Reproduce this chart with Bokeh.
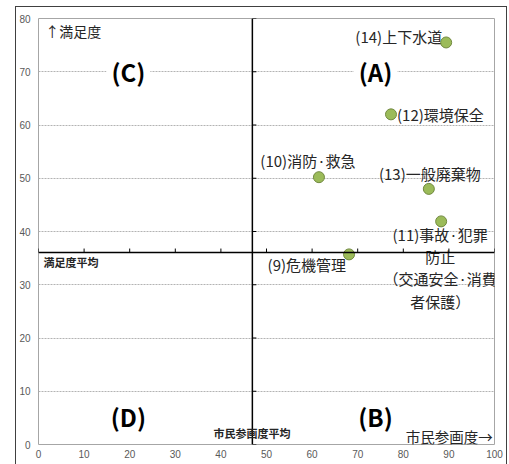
import math
from bokeh.plotting import figure
from bokeh.models import Span, Label, FixedTicker, ColumnDataSource
from bokeh.core.properties import value
from bokeh.embed import file_html
from bokeh.resources import INLINE

# ---- data ----
labels = ["(14)上下水道", "(12)環境保全", "(10)消防·救急", "(13)一般廃棄物",
          "(11)事故·犯罪\n防止\n（交通安全·消費\n者保護）", "(9)危機管理"]
participation = [89.4, 77.3, 61.5, 85.6, 88.3, 68.1]
satisfaction = [75.5, 62.0, 50.2, 48.0, 41.9, 35.7]
participation_avg = 46.9
satisfaction_avg = 36.05
x_ticks = [0, 10, 20, 30, 40, 50, 60, 70, 80, 90, 100]
y_ticks = [0, 10, 20, 30, 40, 50, 60, 70, 80]
quadrants = ["(A)", "(B)", "(C)", "(D)"]

# ---- label placement (styling) ----
lab_align = ["right", "left", "center", "center", "center", "right"]
lab_base = ["middle", "middle", "middle", "middle", "top", "middle"]
lab_dx = [-4, 6, -11, 1, -1, -3]
lab_dy = [-6, 0, -17, -15, 3, 10]

JP = "Noto Sans CJK JP"
TXT = "#262626"

p = figure(width=490, height=457, x_range=(0, 100), y_range=(0, 80),
           output_backend="svg", toolbar_location=None,
           margin=(7, 0, 0, 16),
           min_border_left=22, min_border_right=12, min_border_top=11,
           min_border_bottom=20)
p.styles = {"outline": "1px solid #404040"}
p.outline_line_color = "#a6a6a6"
p.outline_line_width = 1
p.background_fill_color = "white"
p.border_fill_color = "white"

for ax in (p.xaxis[0], p.yaxis[0]):
    ax.axis_line_color = None
    ax.major_tick_line_color = None
    ax.minor_tick_line_color = None
    ax.major_tick_out = 0
    ax.major_tick_in = 0
    ax.minor_tick_out = 0
    ax.minor_tick_in = 0
    ax.axis_label_standoff = 0
    ax.major_label_text_font = "Liberation Sans"
    ax.major_label_text_font_size = "10px"
    ax.major_label_text_color = "#595959"
p.xaxis[0].ticker = FixedTicker(ticks=x_ticks)
p.yaxis[0].ticker = FixedTicker(ticks=y_ticks)
p.xaxis[0].major_label_standoff = 5
p.yaxis[0].major_label_standoff = 8

p.xgrid.grid_line_color = None
p.ygrid.ticker = FixedTicker(ticks=y_ticks[1:-1])
p.ygrid.grid_line_color = "#b3b3b3"
p.ygrid.grid_line_dash = "2 1"
p.ygrid.grid_line_width = 1

# crossing axes at the averages
p.add_layout(Span(location=participation_avg, dimension="height",
                  line_color="black", line_width=1.5))
p.add_layout(Span(location=satisfaction_avg, dimension="width",
                  line_color="black", line_width=1.5))
p.ray(x=x_ticks, y=[satisfaction_avg] * len(x_ticks), length=4,
      length_units="screen", angle=math.pi / 2, line_color="black", line_width=1)
p.ray(x=[participation_avg] * len(y_ticks), y=y_ticks, length=4,
      length_units="screen", angle=0, line_color="black", line_width=1)

# quadrant labels
qx = [73.9, 73.9, 19.7, 19.7]
qy = [70, 5.2, 70, 5.2]
p.text(x=qx, y=qy, text=quadrants, text_align="center", text_baseline="middle",
       text_font=value(JP), text_font_style="bold", text_font_size="24px",
       text_color="black", background_fill_color="white", padding=5)

# points
src = ColumnDataSource(dict(x=participation, y=satisfaction, label=labels,
                            align=lab_align, base=lab_base, dx=lab_dx, dy=lab_dy))
p.text(x="x", y="y", text="label", source=src, text_align="align",
       text_baseline="base", x_offset="dx", y_offset="dy",
       text_font=value(JP), text_font_size="15px", text_color=TXT,
       text_line_height=1.05)
p.scatter(x="x", y="y", source=src, size=11, fill_color="#9bbb59",
          line_color="#71893f", line_width=1)

# axis titles
p.add_layout(Label(x=1.5, y=77.6, text="↑満足度", text_font=JP,
                   text_font_size="14px", text_baseline="middle", text_color=TXT))
p.add_layout(Label(x=99.6, y=1.5, text="市民参画度→", text_font=JP,
                   text_font_size="14.5px", text_baseline="middle", text_align="right",
                   text_color=TXT))
p.add_layout(Label(x=1.1, y=34.2, text="満足度平均", text_font=JP,
                   text_font_size="11px", text_font_style="bold",
                   text_baseline="middle", text_color=TXT))
p.add_layout(Label(x=38.4, y=2.1, text="市民参画度平均", text_font=JP,
                   text_font_size="11px", text_font_style="bold",
                   text_baseline="middle", text_color=TXT))

open("out.html", "w").write(file_html(p, INLINE))
